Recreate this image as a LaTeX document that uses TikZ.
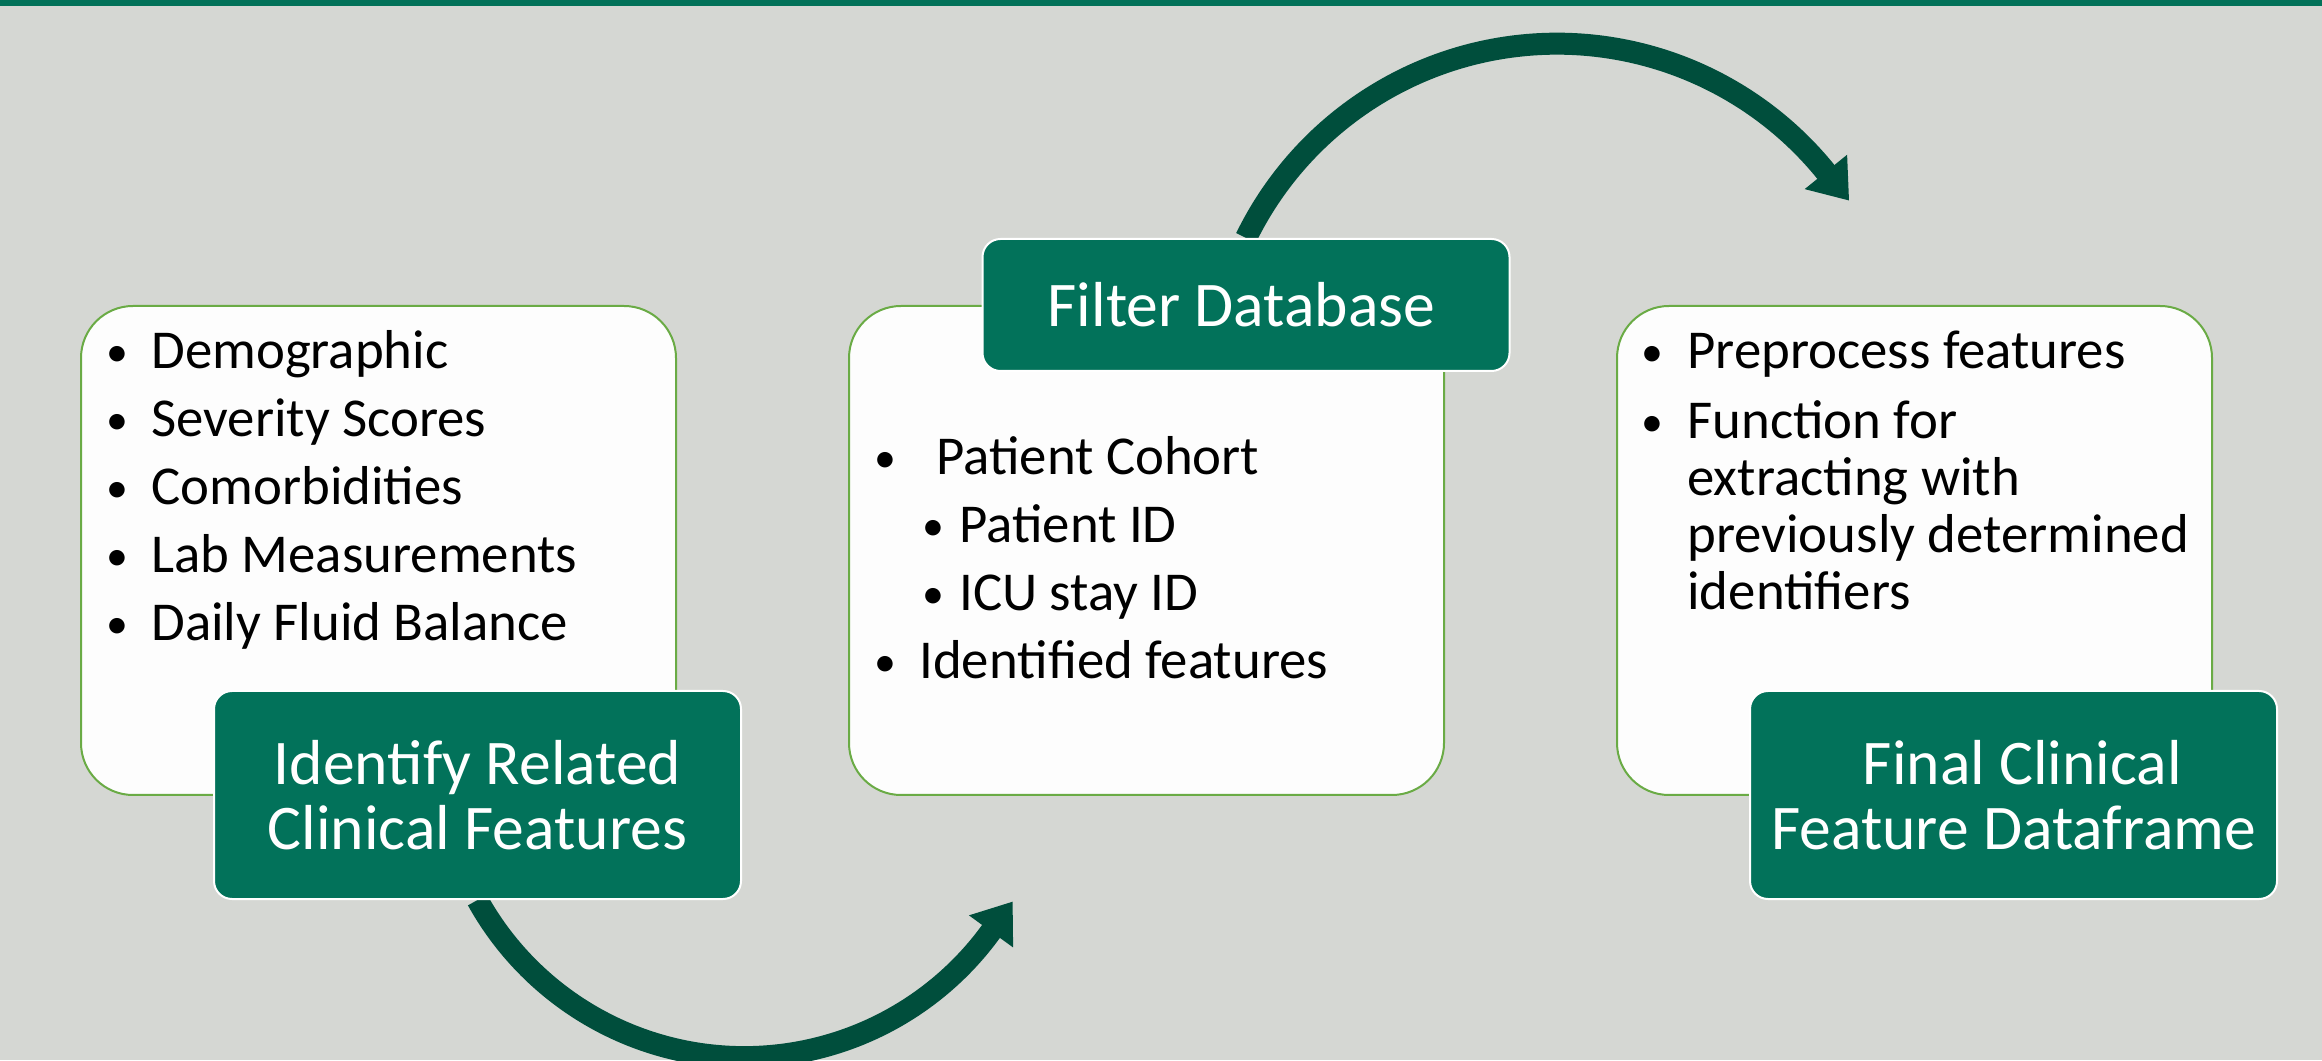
\documentclass[tikz,border=0pt]{standalone}
\usepackage{fontspec}
\setmainfont{Carlito}
\usetikzlibrary{arrows.meta}
\pgfdeclarelayer{bg}
\pgfsetlayers{bg,main}
\definecolor{bgc}{HTML}{D5D7D3}
\definecolor{bar}{HTML}{027259}
\definecolor{lab}{HTML}{02725A}
\definecolor{arr}{HTML}{004E3C}
\definecolor{boxline}{HTML}{6AAB45}
\definecolor{boxfill}{HTML}{FDFDFD}
\newcommand{\bul}[1]{\makebox[#1][l]{\hspace{1.5pt}\raisebox{1pt}{\scalebox{0.8}{•}}}}
\begin{document}
\begin{tikzpicture}[x=0.5pt,y=0.5pt,
  card/.style={draw=boxline, line width=1pt, fill=boxfill, rounded corners=26pt,
    minimum width=297.5pt, minimum height=244.5pt, inner sep=0pt},
  tag/.style={draw=white, line width=1pt, fill=lab, rounded corners=9pt,
    minimum width=263.5pt, inner sep=0pt, text=white, align=center,
    font=\fontsize{31.8}{32.5}\selectfont},
  body/.style={anchor=base west, inner sep=0pt, text=black},
  flow/.style={draw=arr, line width=11pt, -{Triangle[length=18.5pt,width=26pt]}}
]
\useasboundingbox (0,0) rectangle (2322,1060);

% cards and tags
\node[card] (box1) at (378.5,509.5) {};
\node[tag, minimum height=104pt] (lab1) at (477.5,265) {Identify Related\\Clinical Features};
\node[card] (box2) at (1146.5,509.5) {};
\node[tag, minimum height=66pt] (lab2) at (1246,755) {Filter Database\hspace{4.5pt}};
\node[card] (box3) at (1914.5,509.5) {};
\node[tag, minimum height=104pt] (lab3) at (2013.5,265) {\hspace{9pt}Final Clinical\\Feature Dataframe};

% body texts
\node[body] (t1) at (103,691) {\fontsize{27.4}{34}\selectfont\begin{tabular}[t]{@{}l@{}}
\bul{24pt}Demographic\\
\bul{24pt}Severity Scores\\
\bul{24pt}Comorbidities\\
\bul{24pt}Lab Measurements\\
\bul{24pt}Daily Fluid Balance
\end{tabular}};

\node[body] (t2) at (871,585) {\fontsize{27.4}{34}\selectfont\begin{tabular}[t]{@{}l@{}}
\bul{32.5pt}Patient Cohort\\
\hspace{24pt}\bul{20pt}Patient ID\\
\hspace{24pt}\bul{20pt}ICU stay ID\\
\bul{24pt}Identified features
\end{tabular}};

\node[body] (t3) at (1638,691) {\fontsize{27.4}{28.5}\selectfont\begin{tabular}[t]{@{}l@{}}
\bul{24.5pt}Preprocess features\\[6.5pt]
\bul{24.5pt}Function for\\
\hspace{24.5pt}extracting with\\
\hspace{24.5pt}previously determined\\
\hspace{24.5pt}identifiers
\end{tabular}};

\begin{pgfonlayer}{bg}
\fill[bgc] (0,0) rectangle (2322,1060);
\fill[bar] (0,1054) rectangle (2322,1060);
\draw[flow] (lab1.south) arc[start angle=209, end angle=324, radius=305] -- ++(54:37);
\draw[flow] (lab2.north) arc[start angle=154, end angle=39, radius=346] -- ++(-51:37);
\end{pgfonlayer}
\end{tikzpicture}
\end{document}
